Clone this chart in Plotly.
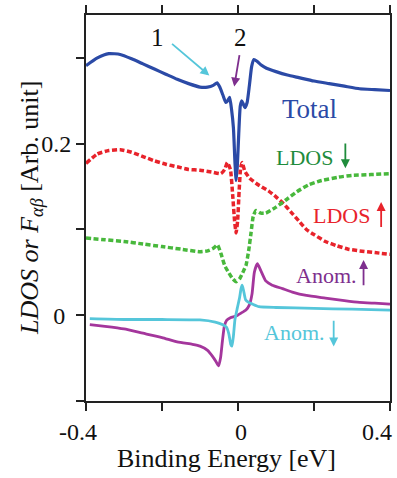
import plotly.graph_objects as go

# ---------------- data ----------------
total_x = [-0.40, -0.37, -0.34, -0.31, -0.28, -0.25, -0.22, -0.19, -0.16, -0.13, -0.10,
           -0.08, -0.065, -0.055, -0.048, -0.040, -0.032, -0.027, -0.022, -0.017, -0.012,
           -0.008, -0.005, -0.002, 0.002, 0.006, 0.010, 0.014, 0.018, 0.024, 0.030, 0.036,
           0.042, 0.050, 0.060, 0.075, 0.10, 0.13, 0.16, 0.20, 0.24, 0.28, 0.32, 0.36, 0.40]
total_y = [0.291, 0.300, 0.305, 0.304, 0.299, 0.293, 0.287, 0.281, 0.275, 0.270, 0.266,
           0.266, 0.268, 0.271, 0.266, 0.257, 0.248, 0.250, 0.254, 0.240, 0.218,
           0.178, 0.157, 0.172, 0.212, 0.244, 0.250, 0.246, 0.242, 0.248, 0.268, 0.290,
           0.298, 0.296, 0.292, 0.288, 0.284, 0.280, 0.277, 0.273, 0.270, 0.267, 0.264, 0.263, 0.262]

ldos_up_x = [-0.40, -0.37, -0.34, -0.31, -0.28, -0.25, -0.22, -0.19, -0.16, -0.13, -0.10,
             -0.07, -0.045, -0.035, -0.028, -0.020, -0.014, -0.009, -0.005, -0.001, 0.003,
             0.007, 0.011, 0.018, 0.030, 0.05, 0.08, 0.10, 0.12, 0.14, 0.16, 0.18, 0.20,
             0.23, 0.26, 0.29, 0.32, 0.36, 0.40]
ldos_up_y = [0.177, 0.188, 0.192, 0.193, 0.190, 0.185, 0.180, 0.176, 0.173, 0.170, 0.169,
             0.167, 0.165, 0.170, 0.178, 0.170, 0.140, 0.110, 0.096, 0.110, 0.145,
             0.172, 0.178, 0.168, 0.160, 0.153, 0.145, 0.138, 0.130, 0.120, 0.110, 0.100, 0.094,
             0.086, 0.081, 0.077, 0.075, 0.073, 0.071]

ldos_dn_x = [-0.40, -0.35, -0.30, -0.25, -0.20, -0.15, -0.10, -0.08, -0.065, -0.054, -0.045,
             -0.035, -0.025, -0.015, -0.005, 0.005, 0.015, 0.021, 0.028, 0.034, 0.040, 0.047,
             0.06, 0.073, 0.10, 0.125, 0.155, 0.186, 0.22, 0.265, 0.30, 0.35, 0.40]
ldos_dn_y = [0.090, 0.088, 0.086, 0.083, 0.080, 0.077, 0.074, 0.075, 0.078, 0.082, 0.072,
             0.058, 0.050, 0.043, 0.039, 0.043, 0.052, 0.058, 0.075, 0.095, 0.115, 0.122,
             0.119, 0.119, 0.126, 0.134, 0.144, 0.152, 0.157, 0.161, 0.163, 0.164, 0.165]

anom_up_x = [-0.39, -0.35, -0.30, -0.25, -0.20, -0.16, -0.12, -0.10, -0.08, -0.067, -0.058,
             -0.051, -0.046, -0.041, -0.036, -0.030, -0.020, -0.005, 0.010, 0.021, 0.030,
             0.037, 0.043, 0.051, 0.060, 0.073, 0.09, 0.117, 0.143, 0.18, 0.23, 0.28, 0.32,
             0.36, 0.40]
anom_up_y = [-0.011, -0.013, -0.016, -0.021, -0.026, -0.031, -0.034, -0.036, -0.041, -0.048, -0.054,
             -0.059, -0.050, -0.030, -0.013, -0.006, -0.003, -0.001, 0.003, 0.006, 0.012,
             0.025, 0.050, 0.060, 0.052, 0.040, 0.035, 0.031, 0.027, 0.023, 0.020, 0.017, 0.015,
             0.014, 0.013]

anom_dn_x = [-0.39, -0.30, -0.20, -0.10, -0.06, -0.04, -0.030, -0.024, -0.019, -0.016, -0.012,
             -0.008, -0.002, 0.004, 0.008, 0.011, 0.015, 0.020, 0.028, 0.038, 0.055, 0.10,
             0.20, 0.30, 0.40]
anom_dn_y = [-0.004, -0.005, -0.005, -0.0055, -0.008, -0.011, -0.014, -0.022, -0.034, -0.036, -0.024,
             -0.005, 0.008, 0.020, 0.031, 0.035, 0.028, 0.018, 0.015, 0.013, 0.010, 0.009,
             0.008, 0.007, 0.006]

x_tickvals = [-0.4, -0.2, 0.0, 0.2, 0.4]
x_ticktext = ["-0.4", "", "0", "", "0.4"]
y_tickvals = [-0.1, 0.0, 0.1, 0.2, 0.3]
y_ticktext = ["", "0\u00a0", "", "0.2", ""]

FONT = "Liberation Serif, Times New Roman, serif"

C_BLUE = "#2b4aa6"
C_RED = "#e8232b"
C_GREEN = "#48b83c"
C_GREEN_T = "#1f8c3c"
C_PURP = "#a4369c"
C_PURP_T = "#7e2f8e"
C_CYAN = "#55c6da"

SMOOTH = dict(shape="spline", smoothing=0.5)

fig = go.Figure()
fig.add_trace(go.Scatter(x=total_x, y=total_y, mode="lines",
                         line=dict(color=C_BLUE, width=3.2, **SMOOTH)))
fig.add_trace(go.Scatter(x=ldos_up_x, y=ldos_up_y, mode="lines",
                         line=dict(color=C_RED, width=3.5, dash="5px,2.5px", **SMOOTH)))
fig.add_trace(go.Scatter(x=ldos_dn_x, y=ldos_dn_y, mode="lines",
                         line=dict(color=C_GREEN, width=3.5, dash="5px,2.5px", **SMOOTH)))
fig.add_trace(go.Scatter(x=anom_up_x, y=anom_up_y, mode="lines",
                         line=dict(color=C_PURP, width=2.8, **SMOOTH)))
fig.add_trace(go.Scatter(x=anom_dn_x, y=anom_dn_y, mode="lines",
                         line=dict(color=C_CYAN, width=2.8, **SMOOTH)))

annotations = []

def label(text, x, y, color, size):
    annotations.append(dict(text=text, x=x, y=y, xref="x", yref="y", showarrow=False,
                            xanchor="center", yanchor="middle",
                            font=dict(family=FONT, size=size, color=color)))

def arrow(x0, y0, x1, y1, color, width=1.8, size=1.0):
    annotations.append(dict(text="", x=x1, y=y1, ax=x0, ay=y0, xref="x", yref="y",
                            axref="x", ayref="y", showarrow=True, arrowhead=2,
                            arrowsize=size, arrowwidth=width, arrowcolor=color,
                            standoff=0, startstandoff=0))

label("1", -0.2128, 0.3242, "#111111", 25)
label("2", 0.0058, 0.3242, "#111111", 25)
arrow(-0.1775, 0.3178, -0.0754, 0.2794, C_CYAN)
arrow(0.0045, 0.3050, -0.0099, 0.2666, C_PURP_T)

label("Total", 0.189, 0.241, C_BLUE, 27)
label("LDOS", 0.1754, 0.1835, C_GREEN_T, 22)
arrow(0.2825, 0.2019, 0.2825, 0.1713, C_GREEN_T)
label("LDOS", 0.2715, 0.1158, C_RED, 22)
arrow(0.3767, 0.1012, 0.3767, 0.1321, C_RED)
label("Anom.", 0.2322, 0.0459, C_PURP_T, 22)
arrow(0.3304, 0.0333, 0.3304, 0.0643, C_PURP_T)
label("Anom.", 0.1492, -0.0206, C_CYAN, 22)
arrow(0.2518, -0.0047, 0.2518, -0.0365, C_CYAN)

# x tick labels, placed under their ticks (nudged as in the reference)
x_label_shift = {-0.4: -8, 0.0: 3, 0.4: -13}
for v, t in zip(x_tickvals, x_ticktext):
    if t:
        annotations.append(dict(text=t, x=v, y=-0.0815, xref="x", yref="paper",
                                xshift=x_label_shift.get(v, 0), showarrow=False,
                                xanchor="center", yanchor="middle",
                                font=dict(family=FONT, size=24, color="#111111")))

# axis titles
annotations.append(dict(text="Binding Energy [eV]", x=0.463, y=-0.149, xref="paper", yref="paper",
                        showarrow=False, xanchor="center", yanchor="middle",
                        font=dict(family=FONT, size=26, color="#111111")))
annotations.append(dict(text="<i>LDOS or F</i><sub><i>αβ</i></sub> [Arb. unit]",
                        x=-0.1832, y=0.501, xref="paper", yref="paper", textangle=-90,
                        showarrow=False, xanchor="center", yanchor="middle",
                        font=dict(family=FONT, size=26, color="#111111")))

axis_common = dict(showgrid=False, zeroline=False, showline=True, linecolor="#222222",
                   linewidth=2, tickcolor="#222222", tickwidth=2, ticklen=8,
                   tickfont=dict(family=FONT, size=24, color="#111111"))

fig.update_layout(
    width=397, height=478,
    margin=dict(l=86, r=5, t=15, b=77),
    paper_bgcolor="white", plot_bgcolor="white",
    showlegend=False,
    annotations=annotations,
    xaxis=dict(range=[-0.4, 0.4], tickmode="array", tickvals=x_tickvals,
               showticklabels=False, ticks="outside", mirror="ticks", **axis_common),
    yaxis=dict(range=[-0.1, 0.35], tickmode="array", tickvals=y_tickvals, ticktext=y_ticktext,
               ticks="outside", mirror=True, **axis_common),
    yaxis2=dict(range=[-0.1, 0.35], overlaying="y", side="right", tickmode="array",
                tickvals=y_tickvals, showticklabels=False, ticks="inside", ticklen=8,
                tickwidth=2, tickcolor="#222222", showgrid=False, zeroline=False,
                showline=False),
)

fig.write_html("out.html", config={"displayModeBar": False},
               post_script="document.body.style.margin='0px';document.body.style.padding='0px';")
